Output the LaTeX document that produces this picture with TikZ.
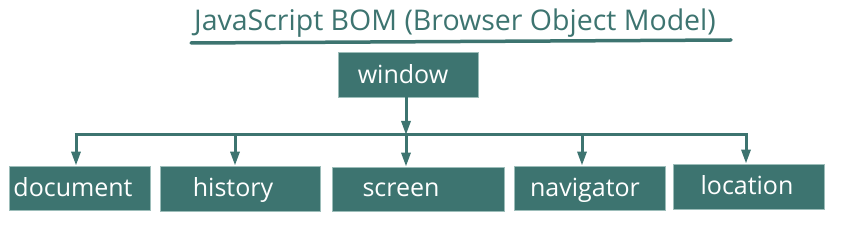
\documentclass[tikz,border=0pt]{standalone}
\usepackage{fontspec}
\setmainfont{Open Sans}
\usetikzlibrary{arrows.meta}
\definecolor{teal1}{HTML}{3D7470}
\definecolor{tealedge}{HTML}{9CBDB9}
\begin{document}
\begin{tikzpicture}[x=1pt,y=-1pt,
  boxnode/.style={fill=teal1,draw=tealedge,line width=0.8pt,inner sep=0pt},
  lbl/.style={text=white,font=\fontsize{25}{28}\selectfont,anchor=base,inner sep=0pt},
  conn/.style={draw=teal1,line width=3pt},
  arr/.style={conn,-{Triangle[length=14pt,width=9pt]}}]
\useasboundingbox (0,0) rectangle (862,229);
% title
\node[text=teal1,font=\fontsize{28.5}{32}\selectfont,anchor=base,inner sep=0pt] (title) at (455,31) {JavaScript BOM (Browser Object Model)};
\coordinate (ul1) at (191,43);
\coordinate (ul2) at (731,40);
\draw[conn,line width=3.5pt,line cap=round] (ul1) -- (ul2);
% boxes
\node[boxnode,minimum width=140pt,minimum height=45pt] (win) at (408,74.5) {};
\node[boxnode,minimum width=141pt,minimum height=44pt] (doc) at (79.5,188) {};
\node[boxnode,minimum width=160pt,minimum height=45pt] (his) at (240,188.5) {};
\node[boxnode,minimum width=172pt,minimum height=44pt] (scr) at (418,189) {};
\node[boxnode,minimum width=151pt,minimum height=44pt] (nav) at (589.5,188) {};
\node[boxnode,minimum width=151pt,minimum height=45pt] (loc) at (748.5,186.5) {};
% labels
\node[lbl] (win-t) at (403,84) {window};
\node[lbl] (doc-t) at (73,197) {document};
\node[lbl] (his-t) at (233,197) {history};
\node[lbl] (scr-t) at (401,197) {screen};
\node[lbl] (nav-t) at (585,197) {navigator};
\node[lbl] (loc-t) at (747,195) {location};
% bus
\coordinate (a1) at (76,135);
\coordinate (a2) at (235,135);
\coordinate (a3) at (406,135);
\coordinate (a4) at (582,135);
\coordinate (a5) at (746,135);
\draw[conn] ([xshift=-1.5pt]a1) -- ([xshift=1.5pt]a5);
\draw[arr] (a3 |- win.south) -- (a3);
\draw[arr] (a1) -- (a1 |- doc.north);
\draw[arr] (a2) -- (a2 |- his.north);
\draw[arr] (a3) -- (a3 |- scr.north);
\draw[arr] (a4) -- (a4 |- nav.north);
\draw[arr] (a5) -- (a5 |- loc.north);
\end{tikzpicture}
\end{document}
